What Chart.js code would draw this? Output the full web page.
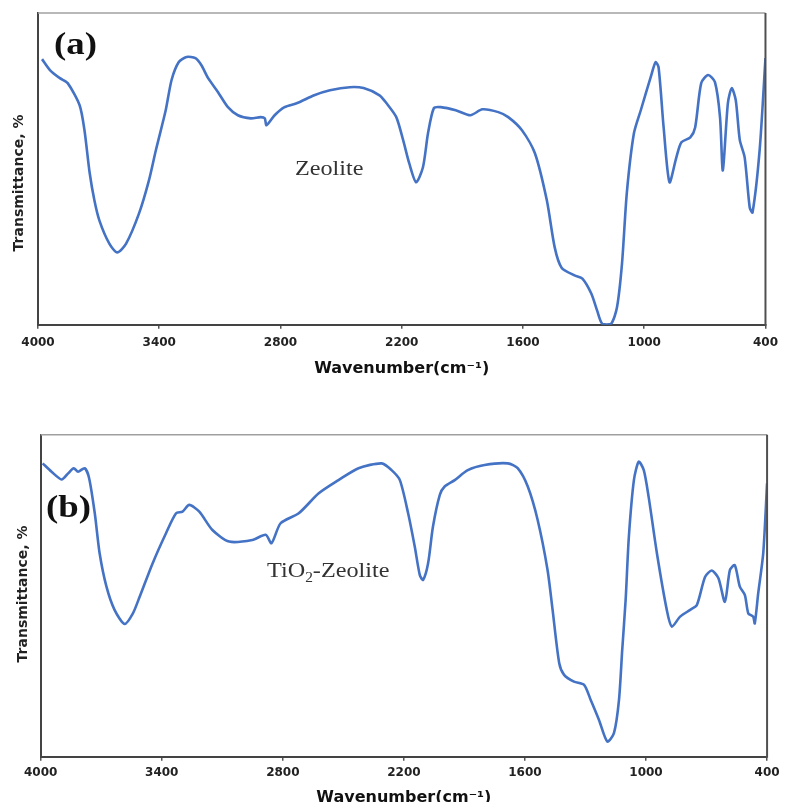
<!DOCTYPE html>
<html>
<head>
<meta charset="utf-8">
<script src="https://cdn.jsdelivr.net/npm/chart.js@4.4.1/dist/chart.umd.min.js"></script>
<style>
  html, body { margin: 0; padding: 0; background: #fff; overflow: hidden; }
  canvas { position: absolute; left: 0; }
  #chartA { top: 0; }
  #chartB { top: 390px; }
</style>
</head>
<body>
<canvas id="chartA" width="785" height="390"></canvas>
<canvas id="chartB" width="785" height="430"></canvas>
<script>
// x axis ticks (cm-1), axis runs high -> low
const wavenumberTicks = [4000, 3400, 2800, 2200, 1600, 1000, 400];

// (a) Zeolite, transmittance in arbitrary units (0-100 of plot height)
const zeoliteWn = [3980, 3941, 3892, 3853, 3794, 3770, 3745, 3721, 3696, 3647,
  3608, 3564, 3500, 3451, 3417, 3368, 3339, 3304, 3265, 3221,
  3192, 3158, 3109, 3060, 3011, 2947, 2898, 2878, 2869, 2829,
  2780, 2717, 2633, 2555, 2457, 2389, 2310, 2276, 2227, 2193,
  2163, 2129, 2095, 2070, 2041, 2007, 1933, 1860, 1801, 1722,
  1673, 1605, 1541, 1482, 1443, 1409, 1345, 1306, 1262, 1233,
  1208, 1164, 1135, 1110, 1086, 1051, 1017, 968, 944, 929,
  904, 875, 841, 816, 772, 748, 718, 684, 650, 625,
  611, 586, 567, 547, 527, 503, 478, 464, 429, 400];
const zeoliteT = [85.2, 81.7, 79.1, 77.5, 70.4, 62.4, 49, 39.9, 33.4, 26.0,
  23.2, 26.0, 35.7, 46.3, 55.9, 68.8, 78.5, 84.2, 85.9, 85.5,
  83.3, 79.1, 74.6, 69.8, 67.2, 66.2, 66.6, 66.2, 64.0, 67.2,
  69.8, 71.1, 73.6, 75.2, 76.2, 75.9, 73.6, 71.1, 66.6, 59.2,
  51.8, 45.7, 50.5, 61.4, 69.5, 69.8, 68.8, 67.2, 69.1, 68.2,
  66.6, 62.4, 55.0, 39.9, 24.8, 18.3, 15.8, 14.8, 10.0, 4.5,
  0.3, 0.3, 5.5, 19.6, 42.4, 61.4, 68.8, 79.4, 84.2, 82.6,
  63.3, 45.7, 53.7, 58.5, 60.1, 63.3, 77.5, 80.1, 77.8, 66.6,
  49.5, 71.1, 75.9, 72.0, 59.2, 53.7, 37.6, 36.0, 55.9, 85.5];

// (b) TiO2-Zeolite
const tiZeoliteWn = [3990, 3946, 3896, 3864, 3836, 3815, 3782, 3760, 3732, 3708,
  3674, 3634, 3584, 3543, 3510, 3445, 3379, 3329, 3297, 3264,
  3214, 3149, 3066, 2951, 2885, 2856, 2811, 2721, 2622, 2524,
  2425, 2310, 2261, 2220, 2179, 2146, 2121, 2105, 2080, 2056,
  2022, 1998, 1948, 1883, 1800, 1685, 1636, 1586, 1537, 1488,
  1463, 1430, 1406, 1357, 1307, 1274, 1233, 1192, 1159, 1134,
  1118, 1101, 1085, 1060, 1036, 1011, 987, 946, 897, 872,
  831, 781, 748, 707, 674, 641, 609, 584, 560, 535,
  510, 493, 469, 461, 444, 419, 400];
const tiZeoliteT = [91.1, 88.5, 86.1, 88.0, 89.6, 88.5, 89.6, 86.5, 75.6, 63.2,
  52.8, 45.6, 41.2, 44.5, 49.6, 60.1, 69.4, 75.6, 76.1, 78.2,
  76.1, 70.4, 66.8, 67.3, 68.9, 66.3, 72.5, 75.6, 81.8, 85.9,
  89.6, 91.1, 89.0, 85.9, 75.6, 65.2, 56.4, 54.9, 60.1, 71.4,
  81.3, 83.9, 85.9, 89.0, 90.6, 91.1, 89.6, 83.9, 73.5, 58.0,
  45.6, 29.0, 25.4, 23.3, 22.3, 17.6, 11.4, 4.7, 7.3, 17.6,
  33.1, 48.7, 68.3, 85.9, 91.6, 89.0, 80.7, 63.2, 45.6, 40.4,
  43.5, 45.6, 47.1, 55.9, 57.8, 55.4, 48.1, 58.0, 59.5, 52.8,
  50.2, 44.5, 43.5, 41.4, 50.7, 63.2, 84.9];

const LINE_BLUE = "#4472c4";
const AXIS_FONT = "DejaVu Sans";

// frame edges, rotated y title, panel letter and sample name
const panelDecor = {
  id: "panelDecor",
  afterDraw(chart, args, o) {
    const { ctx, chartArea: a } = chart;
    ctx.save();
    ctx.lineWidth = 1.5;
    ctx.strokeStyle = "#a0a0a0";
    ctx.beginPath(); ctx.moveTo(a.left, a.top); ctx.lineTo(a.right, a.top); ctx.stroke();
    ctx.strokeStyle = "#505050";
    ctx.lineWidth = 2;
    ctx.beginPath(); ctx.moveTo(a.right, a.top); ctx.lineTo(a.right, a.bottom + 1); ctx.stroke();

    ctx.save();
    ctx.translate(o.yTitleX, o.yTitleY);
    ctx.rotate(-Math.PI / 2);
    ctx.font = "bold 14px '" + AXIS_FONT + "'";
    ctx.fillStyle = "#222";
    ctx.textAlign = "center";
    ctx.textBaseline = "middle";
    ctx.fillText("Transmittance, %", 0, 0);
    ctx.restore();

    ctx.save();
    ctx.translate(o.tagX, o.tagY);
    ctx.scale(1.15, 1);
    ctx.font = "bold 32px 'Liberation Serif'";
    ctx.fillStyle = "#111";
    ctx.textBaseline = "alphabetic";
    ctx.fillText(o.tag, 0, 0);
    ctx.restore();

    ctx.save();
    ctx.translate(o.noteX, o.noteY);
    ctx.scale(1.1, 1);
    ctx.fillStyle = "#333";
    ctx.textBaseline = "alphabetic";
    let x = 0;
    o.note.forEach(seg => {
      const size = seg.sub ? 14 : 22;
      ctx.font = size + "px 'Liberation Serif'";
      ctx.fillText(seg.text, x, seg.sub ? 5 : 0);
      x += ctx.measureText(seg.text).width;
    });
    ctx.restore();
    ctx.restore();
  }
};

function makeChart(id, wn, t, geo, decor) {
  return new Chart(document.getElementById(id), {
    type: "line",
    data: {
      datasets: [{
        data: wn.map((w, i) => ({ x: w, y: t[i] })),
        borderColor: LINE_BLUE,
        borderWidth: 2.6,
        pointRadius: 0,
        tension: 0.25,
        fill: false
      }]
    },
    options: {
      responsive: false,
      animation: false,
      layout: { padding: geo.padding },
      plugins: { legend: { display: false }, tooltip: { enabled: false }, panelDecor: decor },
      scales: {
        x: {
          type: "linear",
          reverse: true,
          min: 400,
          max: 4000,
          afterBuildTicks: s => { s.ticks = wavenumberTicks.map(v => ({ value: v })); },
          afterFit: s => { s.height = geo.xHeight; },
          ticks: {
            callback: v => String(v),
            autoSkip: false,
            maxRotation: 0,
            padding: geo.tickPad,
            color: "#222",
            font: { family: AXIS_FONT, weight: "bold", size: 12 }
          },
          grid: { drawOnChartArea: false, drawTicks: true, tickLength: 4, color: "#555", lineWidth: 1.5 },
          border: { color: "#444", width: 2 },
          title: {
            display: true,
            text: "Wavenumber(cm⁻¹)",
            color: "#111",
            padding: 0,
            font: { family: AXIS_FONT, weight: "bold", size: 16 }
          }
        },
        y: {
          min: 0,
          max: 100,
          afterFit: s => { s.width = geo.yWidth; },
          ticks: { display: false },
          grid: { display: false },
          border: { color: "#444", width: 2 }
        }
      }
    },
    plugins: [panelDecor]
  });
}

makeChart("chartA", zeoliteWn, zeoliteT,
  { padding: { left: 0, top: 13, right: 12, bottom: 11.7 }, xHeight: 53.6, yWidth: 38, tickPad: 7 },
  { yTitleX: 19, yTitleY: 183, tag: "(a)", tagX: 54, tagY: 54,
    note: [{ text: "Zeolite" }], noteX: 295, noteY: 175 });

makeChart("chartB", tiZeoliteWn, tiZeoliteT,
  { padding: { left: 0, top: 44.7, right: 14.3, bottom: 12.7 }, xHeight: 50.6, yWidth: 40.7, tickPad: 5.4 },
  { yTitleX: 23, yTitleY: 204, tag: "(b)", tagX: 46, tagY: 127,
    note: [{ text: "TiO" }, { text: "2", sub: true }, { text: "-Zeolite" }], noteX: 267, noteY: 187 });
</script>
</body>
</html>
